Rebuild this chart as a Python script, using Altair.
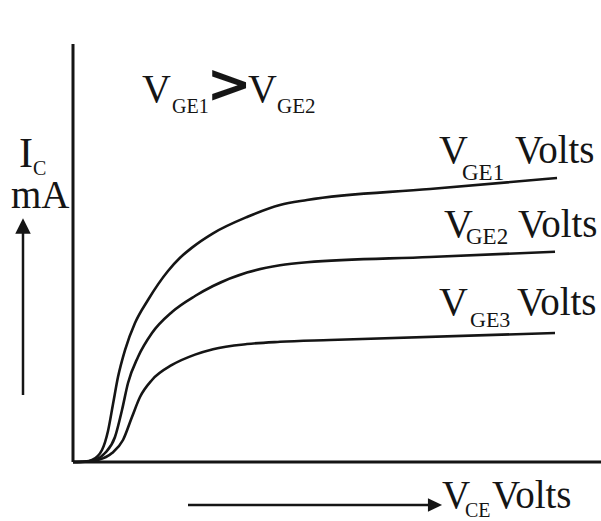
import altair as alt
import pandas as pd

# Output characteristics: collector current I_C (mA) versus V_CE (V)
# for three gate-emitter voltages.
curve_names = ["VGE1", "VGE2", "VGE3"]

vce_ge1 = [0, 0.227, 0.360, 0.549, 0.663, 0.758, 0.852, 0.985, 1.174, 1.420, 1.799, 2.027,
           2.254, 2.652, 3.295, 3.920, 4.432, 6.761, 9.167]
ic_ge1 = [0, 0.012, 0.048, 0.287, 0.742, 1.388, 2.033, 2.679, 3.325, 3.876, 4.569, 4.885,
          5.129, 5.471, 5.861, 6.148, 6.268, 6.531, 6.794]

vce_ge2 = [0, 0.227, 0.417, 0.606, 0.795, 0.928, 1.042, 1.231, 1.496, 1.875, 2.311, 2.652,
           3.295, 3.920, 4.432, 6.761, 9.129]
ic_ge2 = [0, 0.007, 0.048, 0.215, 0.598, 1.244, 1.890, 2.512, 3.086, 3.589, 3.971, 4.211,
          4.533, 4.706, 4.778, 4.904, 5.031]

vce_ge3 = [0, 0.227, 0.473, 0.739, 0.947, 1.117, 1.269, 1.496, 1.875, 2.311, 2.652, 3.295,
           3.920, 4.867, 9.129]
ic_ge3 = [0, 0.005, 0.048, 0.215, 0.526, 1.077, 1.555, 1.962, 2.321, 2.569, 2.699, 2.821,
          2.876, 2.919, 3.086]

# Axis extents in data units
vce_max = 10
ic_max = 10

rows = []
for name, xs, ys in zip(curve_names, [vce_ge1, vce_ge2, vce_ge3], [ic_ge1, ic_ge2, ic_ge3]):
    for x, y in zip(xs, ys):
        rows.append({"curve": name, "vce": x, "ic": y})
curves = pd.DataFrame(rows)

W, H = 601, 521
INK = "#151515"
SERIF = "Liberation Serif"

x_scale = alt.Scale(domain=[-1.3826, 10.0], nice=False, zero=False)
y_scale = alt.Scale(domain=[-1.4115, 11.0526], nice=False, zero=False)

lines = alt.Chart(curves).mark_line(
    color=INK, strokeWidth=2.6, interpolate="monotone"
).encode(
    x=alt.X("vce:Q", scale=x_scale, axis=None),
    y=alt.Y("ic:Q", scale=y_scale, axis=None),
    detail="curve:N",
)

axes_df = pd.DataFrame({"x": [0, 0], "x2": [0, vce_max], "y": [0, 0], "y2": [ic_max, 0]})
axes = alt.Chart(axes_df).mark_rule(color=INK, strokeWidth=3).encode(
    x=alt.X("x:Q", scale=x_scale, axis=None),
    x2="x2:Q",
    y=alt.Y("y:Q", scale=y_scale, axis=None),
    y2="y2:Q",
)

# Annotation text: (text, left x, baseline y, font size) in pixels
label_specs = [
    ("V", 142, 102, 40), ("GE1", 172, 113, 20),
    ("V", 248, 102, 40), ("GE2", 277, 113, 21),
    ("V", 439, 163, 40), ("GE1", 462, 180, 23), ("Volts", 515, 163, 39),
    ("V", 444, 237, 40), ("GE2", 466, 244, 23), ("Volts", 518, 237, 39),
    ("V", 439, 315, 40), ("GE3", 470, 327, 22), ("Volts", 517, 315, 39),
    ("V", 442, 508, 39), ("CE", 465, 517, 20), ("Volts", 492, 508, 39),
    ("I", 19, 167, 42), ("C", 33, 175, 20),
    ("mA", 11, 208, 39),
]
text_layers = []
for t, px, py, fs in label_specs:
    text_layers.append(
        alt.Chart(pd.DataFrame({"t": [t]})).mark_text(
            font=SERIF, fontSize=fs, align="left", baseline="alphabetic",
            color=INK, x=px, y=py,
        ).encode(text="t:N")
    )

gt = alt.Chart(pd.DataFrame({"t": [">"]})).mark_text(
    font="DejaVu Sans", fontWeight="bold", fontSize=54, align="center",
    baseline="middle", color=INK, x=229, y=86,
).encode(text="t:N")

# Direction arrows beside the axes
shafts_df = pd.DataFrame({"x": [23, 188], "x2": [23, 430], "y": [395, 505], "y2": [230, 505]})
shafts = alt.Chart(shafts_df).mark_rule(color=INK, strokeWidth=2.5).encode(
    x=alt.X("x:Q", scale=None, axis=None),
    x2="x2:Q",
    y=alt.Y("y:Q", scale=None, axis=None),
    y2="y2:Q",
)
head_up = alt.Chart(pd.DataFrame({"t": ["up"]})).mark_point(
    shape="M0,-1L1,1L-1,1Z", size=240, filled=True, color=INK, opacity=1, x=23, y=226
).encode(detail="t:N")
head_right = alt.Chart(pd.DataFrame({"t": ["right"]})).mark_point(
    shape="M1,0L-1,0.95L-1,-0.95Z", size=200, filled=True, color=INK, opacity=1, x=435, y=505
).encode(detail="t:N")

chart = alt.layer(axes, lines, shafts, head_up, head_right, gt, *text_layers).resolve_scale(
    x="independent", y="independent"
).properties(
    width=W, height=H, padding=0, autosize=alt.AutoSizeParams(type="none"),
).configure(font=SERIF).configure_text(font=SERIF).configure_view(stroke=None)

chart.save("out.html", embed_options={"renderer": "svg", "actions": False})
